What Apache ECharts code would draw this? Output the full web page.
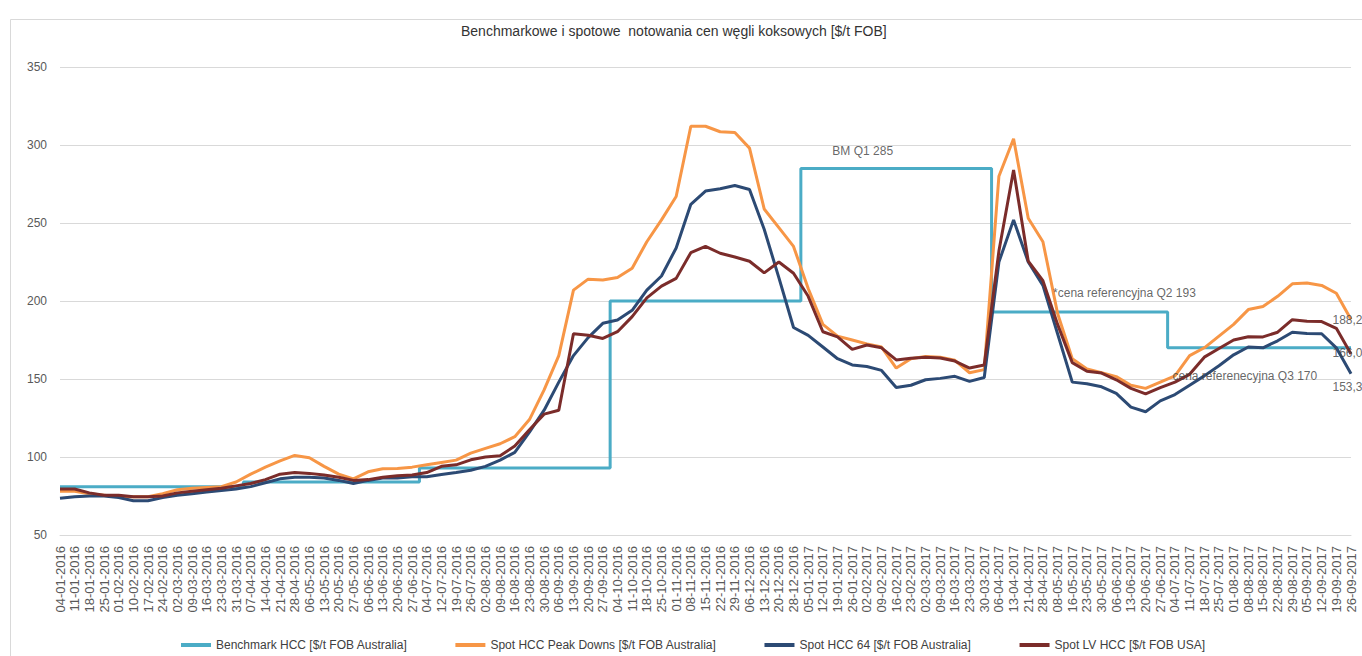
<!DOCTYPE html>
<html>
<head>
<meta charset="utf-8">
<title>Benchmarkowe i spotowe notowania cen węgli koksowych</title>
<script src="https://cdn.jsdelivr.net/npm/echarts@6/dist/echarts.min.js"></script>
<style>
  html, body { margin: 0; padding: 0; background: #fff; }
  #chart { width: 1362px; height: 656px; }
</style>
</head>
<body>
<div id="chart"></div>
<script>
// tygodniowe etykiety osi X
const categories = [
  '04-01-2016', '11-01-2016', '18-01-2016', '25-01-2016', '01-02-2016', '10-02-2016', '17-02-2016', '24-02-2016',
  '02-03-2016', '09-03-2016', '16-03-2016', '23-03-2016', '31-03-2016', '07-04-2016', '14-04-2016', '21-04-2016',
  '28-04-2016', '06-05-2016', '13-05-2016', '20-05-2016', '27-05-2016', '06-06-2016', '13-06-2016', '20-06-2016',
  '27-06-2016', '04-07-2016', '12-07-2016', '19-07-2016', '26-07-2016', '02-08-2016', '09-08-2016', '16-08-2016',
  '23-08-2016', '30-08-2016', '06-09-2016', '13-09-2016', '20-09-2016', '27-09-2016', '04-10-2016', '11-10-2016',
  '18-10-2016', '25-10-2016', '01-11-2016', '08-11-2016', '15-11-2016', '22-11-2016', '29-11-2016', '06-12-2016',
  '13-12-2016', '20-12-2016', '28-12-2016', '05-01-2017', '12-01-2017', '19-01-2017', '26-01-2017', '02-02-2017',
  '09-02-2017', '16-02-2017', '23-02-2017', '02-03-2017', '09-03-2017', '16-03-2017', '23-03-2017', '30-03-2017',
  '06-04-2017', '13-04-2017', '21-04-2017', '28-04-2017', '08-05-2017', '16-05-2017', '23-05-2017', '30-05-2017',
  '06-06-2017', '13-06-2017', '20-06-2017', '27-06-2017', '04-07-2017', '11-07-2017', '18-07-2017', '25-07-2017',
  '01-08-2017', '08-08-2017', '15-08-2017', '22-08-2017', '29-08-2017', '05-09-2017', '12-09-2017', '19-09-2017',
  '26-09-2017'
];

// Benchmark HCC [$/t FOB Australia]
const benchmarkHcc = [
  81, 81, 81, 81, 81, 81, 81, 81, 81, 81, 81, 81, 81,
  84, 84, 84, 84, 84, 84, 84, 84, 84, 84, 84, 84,
  93, 93, 93, 93, 93, 93, 93, 93, 93, 93, 93, 93, 93,
  200, 200, 200, 200, 200, 200, 200, 200, 200, 200, 200, 200, 200,
  285, 285, 285, 285, 285, 285, 285, 285, 285, 285, 285, 285, 285,
  193, 193, 193, 193, 193, 193, 193, 193, 193, 193, 193, 193,
  170, 170, 170, 170, 170, 170, 170, 170, 170, 170, 170, 170, 170
];

// Spot HCC Peak Downs [$/t FOB Australia]
const spotPeakDowns = [
  78, 78, 76.5, 75.5, 74.5, 74.5, 74.5, 76.5, 79, 80, 80.5, 81, 84, 89, 93.5, 97.5, 101, 99.5, 94, 89, 86, 90.5, 92.5,
  92.7, 93.5, 95, 96.5, 98, 102.5, 105.5, 108.5, 113, 124, 143, 165, 207, 214, 213.5, 215,
  221, 238, 252, 267, 312, 312, 308.5, 308, 298, 259, 247, 235, 208,
  185, 177.5, 175, 172.5, 170.5, 157, 163, 164.5, 164, 162, 154, 156,
  280, 304, 253, 238, 192, 163, 156.5, 154, 151.5, 146, 144, 148, 152,
  165, 170, 177.5, 185, 194.5, 196.5, 203, 211, 211.5, 210, 205, 188.2
];

// Spot HCC 64 [$/t FOB Australia]
const spotHcc64 = [
  73.5, 74.5, 75, 75, 74, 72, 72, 74, 75.5, 76.5, 77.5, 78.5, 79.5, 81, 83.5, 86, 87, 87, 86.5, 85, 83, 85, 86.5,
  86.5, 87.3, 87.4, 88.8, 90, 91.5, 94, 98, 103, 116, 130, 148, 165, 176.5, 185.7, 187.8,
  194, 207, 216, 234, 262, 270.5, 272, 274, 271.5, 246, 215, 183, 178,
  170.5, 163, 159, 158, 155.5, 144.5, 146, 149.5, 150.4, 151.7, 148.5, 151,
  225, 252, 225, 210, 179, 148, 147, 145, 140.8, 132, 129, 136, 140,
  146, 152, 158.5, 165.5, 170.5, 170, 174.5, 180, 179.2, 179, 170, 153.3
];

// Spot LV HCC [$/t FOB USA]
const spotLvUsa = [
  79.5, 79.5, 77, 75.5, 75.5, 74.5, 74.5, 75, 77, 78, 79, 80, 81.5, 83, 85.5, 89, 90, 89.5, 88.5, 87, 85, 85.5, 87,
  88, 88.5, 90, 94, 95, 98.2, 100, 100.8, 107, 117.5, 127.5, 130, 179, 178, 176, 180.3,
  190, 202, 209.5, 214.5, 231, 235, 230.6, 228.2, 225.5, 218, 225, 217.8, 203,
  180.3, 177, 169, 171.8, 170, 162.2, 163.3, 163.9, 163.5, 161.5, 157, 159,
  232, 284, 225.5, 213, 185, 160.5, 155, 153.8, 149.5, 144, 140.5, 144.5, 148,
  153, 164, 169.5, 175, 177.1, 177, 180, 188, 187, 186.8, 182.5, 166.0
];

// opisy na wykresie
const noteTexts = ['BM Q1 285', '*cena referencyjna Q2 193', 'cena referenecyjna Q3 170', '188,2', '166,0', '153,3'];
const noteDates = ['12-01-2017', '08-05-2017', '04-07-2017', '26-09-2017', '26-09-2017', '26-09-2017'];
const noteValues = [285, 193, 170, 188.2, 166.0, 153.3];

const yTicks = [50, 100, 150, 200, 250, 300, 350];

const seriesNames = [
  'Benchmark HCC [$/t FOB Australia]',
  'Spot HCC Peak Downs [$/t FOB Australia]',
  'Spot HCC 64 [$/t FOB Australia]',
  'Spot LV HCC [$/t FOB USA]'
];
const colors = ['#4bacc6', '#f79646', '#2c4a74', '#7b2c2a'];

const chart = echarts.init(document.getElementById('chart'), null, { renderer: 'svg' });

// przesunięcia opisów względem punktu zaczepienia [dx, dy]
const noteOffsets = [[10, -17], [-4, -18], [-2, 29], [-18, 1], [-18, -1], [-18, 14]];

const lineSeries = [benchmarkHcc, spotPeakDowns, spotHcc64, spotLvUsa].map((data, i) => ({
  name: seriesNames[i],
  type: 'line',
  data: data,
  step: i === 0 ? 'middle' : false,
  showSymbol: false,
  symbol: 'none',
  lineStyle: { width: 3, color: colors[i] },
  itemStyle: { color: colors[i] },
  z: 2 + i,
  silent: true
}));

const noteSeries = {
  name: 'opisy',
  type: 'scatter',
  symbolSize: 1,
  itemStyle: { color: 'rgba(0,0,0,0)' },
  z: 10,
  silent: true,
  data: noteTexts.map((t, i) => ({
    value: [noteDates[i], noteValues[i]],
    label: {
      show: true,
      formatter: t,
      position: noteOffsets[i],
      align: 'left',
      verticalAlign: 'middle',
      color: '#404040',
      fontSize: 12,
      fontFamily: 'Liberation Sans, Arial, sans-serif'
    }
  }))
};

const option = {
  animation: false,
  backgroundColor: '#fff',
  textStyle: { fontFamily: 'Liberation Sans, Arial, sans-serif' },
  title: {
    text: 'Benchmarkowe i spotowe  notowania cen węgli koksowych [$/t FOB]',
    left: 461,
    top: 24,
    padding: 0,
    textStyle: { fontSize: 14, fontWeight: 'normal', color: '#333333', fontFamily: 'Liberation Sans, Arial, sans-serif' }
  },
  graphic: [{
    type: 'rect',
    left: 8,
    top: 17,
    shape: { width: 1400, height: 700 },
    style: { fill: 'none', stroke: '#d9d9d9', lineWidth: 1 },
    silent: true
  }],
  legend: {
    data: seriesNames,
    left: 176,
    top: 634,
    itemGap: 48,
    itemWidth: 30,
    itemHeight: 4,
    icon: 'rect',
    textStyle: { fontSize: 12, color: '#404040', fontFamily: 'Liberation Sans, Arial, sans-serif' }
  },
  grid: { left: 60, right: 11, top: 67, bottom: 121, containLabel: false },
  xAxis: {
    type: 'category',
    data: categories,
    boundaryGap: false,
    axisLine: { show: true, lineStyle: { color: '#d9d9d9' } },
    axisTick: { show: false },
    axisLabel: { interval: 0, rotate: 90, fontSize: 13, color: '#595959', margin: 11 },
    splitLine: { show: false }
  },
  yAxis: {
    type: 'value',
    min: yTicks[0],
    max: yTicks[yTicks.length - 1],
    interval: 50,
    axisLine: { show: false },
    axisTick: { show: false },
    axisLabel: { fontSize: 12, color: '#595959', margin: 13 },
    splitLine: { lineStyle: { color: '#d9d9d9' } }
  },
  series: lineSeries.concat([noteSeries])
};

chart.setOption(option);
</script>
</body>
</html>
